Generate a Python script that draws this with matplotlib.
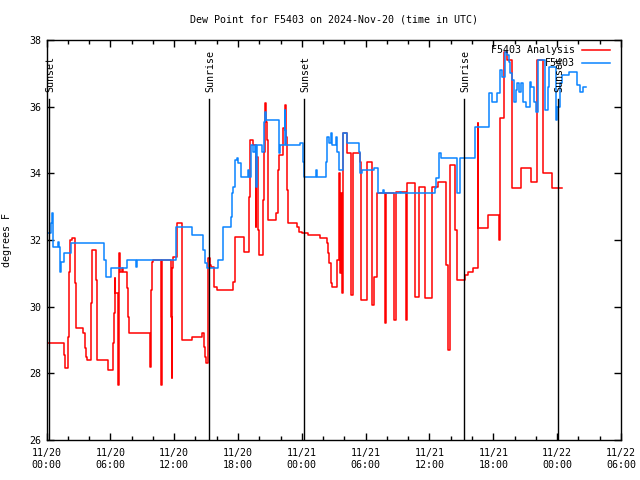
import numpy as np
import pandas as pd
import matplotlib
matplotlib.use('Agg')
import matplotlib.pyplot as plt

plt.rcParams['font.family'] = ['DejaVu Sans Mono']
plt.rcParams['font.size'] = 7.2

# hours since 2024-11-20 00:00 UTC
base = pd.Timestamp('2024-11-20 00:00')

# F5403 Analysis (red)
ana_h = [0.1, 1.65, 1.75, 2.05, 2.15, 2.2, 2.35, 2.7, 2.75, 3.45, 3.6, 3.75, 3.8,
         4.2, 4.25, 4.65, 4.7, 5.75, 6.25, 6.3, 6.4, 6.45, 6.75, 6.8, 6.85, 6.9,
         6.95, 7.1, 7.2, 7.6, 7.7, 7.8, 9.7, 9.75, 9.85, 9.9, 10.05, 10.75, 10.85,
         10.9, 11.7, 11.75, 11.8, 11.9, 12.25, 12.7, 12.75, 13.7, 14.65, 14.8,
         14.9, 15.0, 15.15, 15.2, 15.4, 15.5, 15.7, 16.0, 17.55, 17.7, 17.75,
         18.6, 19.05, 19.1, 19.4, 19.7, 19.72, 19.85, 20.0, 20.35, 20.4, 20.5,
         20.6, 20.7, 20.8, 21.55, 21.75, 21.9, 22.25, 22.4, 22.5, 22.6, 22.7,
         23.55, 23.75, 24.0, 24.6, 25.7, 26.4, 26.45, 26.6, 26.7, 26.8, 27.35,
         27.5, 27.6, 27.7, 27.78, 27.85, 27.9, 28.2, 28.65, 28.8, 29.45, 29.55,
         30.15, 30.6, 30.75, 31.05, 31.8, 31.9, 32.7, 32.85, 33.75, 33.85, 34.6,
         35.0, 35.6, 36.25, 36.8, 37.55, 37.7, 37.95, 38.35, 38.6, 39.35, 39.6,
         40.05, 40.55, 40.6, 41.5, 42.55, 42.65, 43.0, 43.3, 43.75, 44.6, 45.55,
         46.15, 46.7, 47.55, 48.5]
ana_v = [28.9, 28.55, 28.15, 29.1, 31.05, 32.0, 32.05, 30.7, 29.35, 29.2, 28.75, 28.5, 28.4,
         30.1, 31.7, 30.8, 28.4, 28.1, 28.9, 29.8, 30.85, 30.4, 27.65, 31.15, 31.6, 31.3,
         31.05, 31.15, 31.05, 30.55, 29.7, 29.2, 28.7, 28.2, 30.5, 31.35, 31.4, 27.65, 29.6,
         31.4, 29.7, 27.85, 31.15, 31.5, 32.5, 32.35, 29.0, 29.1, 29.2, 28.8,
         28.5, 28.3, 29.9, 31.45, 31.25, 31.2, 30.6, 30.5, 30.75, 31.3, 32.1,
         31.65, 33.3, 35.0, 34.85, 32.4, 34.5, 32.3, 31.55, 33.2, 34.65, 36.1,
         35.55, 35.0, 32.6, 32.8, 34.1, 34.55, 35.35, 36.05, 35.1, 33.5, 32.5,
         32.4, 32.25, 32.2, 32.15, 32.05, 31.9, 31.6, 31.3, 30.7, 30.6, 31.4,
         34.0, 31.0, 33.4, 30.4, 33.5, 35.2, 34.6, 30.35, 34.6, 34.35, 30.2,
         34.35, 30.05, 30.9, 33.4, 29.5, 33.4, 29.6, 33.45, 29.6, 33.7, 30.3,
         33.6, 30.25, 33.6, 33.75, 31.25, 28.7, 34.25, 32.3, 30.8, 30.95, 31.05,
         31.15, 35.5, 32.35, 32.75, 32.0, 35.65, 37.65, 37.4, 33.55, 34.15, 33.75,
         37.4, 34.0, 33.55, 33.55]

# F5403 observations (blue)
obs_h = [0.12, 0.4, 0.5, 0.65, 1.1, 1.15, 1.25, 1.4, 1.6, 2.3, 5.45, 5.55, 6.1, 7.6,
         8.4, 8.5, 12.2, 13.65, 14.75, 14.9, 15.05, 16.1, 16.55, 17.3, 17.4, 17.5,
         17.75, 17.9, 18.0, 18.3, 18.95, 19.05, 19.2, 19.25, 19.4, 19.6, 19.7, 19.8,
         20.3, 20.45, 20.5, 20.6, 21.85, 21.95, 22.4, 22.45, 22.55, 23.8, 24.1, 24.2,
         25.3, 25.4, 26.3, 26.4, 26.6, 26.7, 26.8, 27.25, 27.35, 27.45, 27.9, 28.2,
         29.35, 29.5, 29.7, 30.75, 31.2, 31.6, 31.7, 33.2, 33.3, 36.55, 36.65, 36.85,
         37.1, 38.55, 38.85, 40.3, 41.6, 41.85, 42.3, 42.6, 42.85, 43.1, 43.3, 43.45,
         43.55, 43.75, 43.9, 44.1, 44.25, 44.45, 44.6, 44.8, 45.1, 45.45, 45.55, 45.8,
         46.0, 46.2, 46.85, 47.1, 47.25, 47.85, 48.0, 48.25, 48.45, 49.1, 49.7, 49.9,
         50.15, 50.45, 50.7]
obs_v = [32.2, 32.5, 32.8, 31.8, 31.95, 31.8, 31.05, 31.35, 31.6, 31.9, 31.4, 30.9, 31.15, 31.4,
         31.2, 31.4, 32.4, 32.15, 31.7, 31.3, 31.15, 31.4, 32.4, 32.7, 33.4, 33.6,
         34.4, 34.45, 34.3, 33.9, 34.1, 33.9, 34.4, 34.85, 34.65, 34.85, 33.6, 34.85,
         34.65, 35.55, 35.85, 35.6, 34.6, 34.85, 35.9, 35.3, 34.85, 34.9, 34.35, 33.9,
         34.1, 33.9, 34.35, 35.1, 34.9, 35.2, 34.85, 35.1, 34.65, 34.1, 35.2, 34.9,
         34.65, 34.0, 34.1, 34.15, 33.4, 33.5, 33.4, 33.45, 33.4, 33.55, 33.85, 34.6,
         34.45, 33.4, 34.45, 35.4, 36.4, 36.15, 36.4, 37.1, 36.9, 37.65, 37.55, 37.35,
         37.0, 36.8, 36.15, 36.5, 36.7, 36.45, 36.7, 36.15, 36.0, 36.75, 36.6, 36.15,
         35.85, 37.4, 35.9, 36.6, 37.2, 35.6, 36.0, 36.7, 36.95, 37.05, 37.05, 36.65,
         36.45, 36.6, 36.6]

# sun events (hours since start)
event_h = [0.28, 15.28, 24.19, 39.28, 48.1]
event_lbl = ['Sunset', 'Sunrise', 'Sunset', 'Sunrise', 'Sunset']

tick_h = np.arange(0, 55, 6)

fig = plt.figure(figsize=(6.4, 4.8), dpi=100)
ax = fig.add_axes([46.5 / 640, 40 / 480, (621 - 46.5) / 640, 400 / 480])

ax.plot(ana_h, ana_v, color='#ff0000', lw=1.1, drawstyle='steps-post')
ax.plot(obs_h, obs_v, color='#0a84ff', lw=1.1, drawstyle='steps-post')

for h, lbl in zip(event_h, event_lbl):
    ax.plot([h, h], [26, 36.23], color='black', lw=1.0)
    ax.text(h + 0.12, 36.44, lbl, rotation=90, ha='center', va='bottom')

ax.set_xlim(0, 54)
ax.set_ylim(26, 38)
ax.set_xticks(tick_h)
ax.set_xticklabels([(base + pd.Timedelta(hours=int(h))).strftime('%m/%d\n%H:%M') for h in tick_h])
ax.set_xticks(np.arange(0, 55, 2), minor=True)
ax.set_yticks(np.arange(26, 39, 2))
ax.tick_params(direction='in', top=True, right=True, length=5, width=1, pad=6)
ax.tick_params(axis='y', pad=4)
ax.tick_params(which='minor', direction='in', top=True, length=3, width=1)
ax.tick_params(axis='x', which='major', pad=6)
for s in ax.spines.values():
    s.set_linewidth(1.0)

ax.set_ylabel('degrees F', labelpad=12)
fig.text(333.75 / 640, 1 - 20 / 480, 'Dew Point for F5403 on 2024-Nov-20 (time in UTC)',
         ha='center', va='center')

# gnuplot style key
ax.text(0.92, 0.975, 'F5403 Analysis', transform=ax.transAxes, ha='right', va='center')
ax.plot([0.932, 0.981], [0.975, 0.975], transform=ax.transAxes, color='#ff0000', lw=1.1)
ax.text(0.92, 0.9425, 'F5403', transform=ax.transAxes, ha='right', va='center')
ax.plot([0.932, 0.981], [0.9425, 0.9425], transform=ax.transAxes, color='#0a84ff', lw=1.1)

fig.savefig('out.png', dpi=100)
